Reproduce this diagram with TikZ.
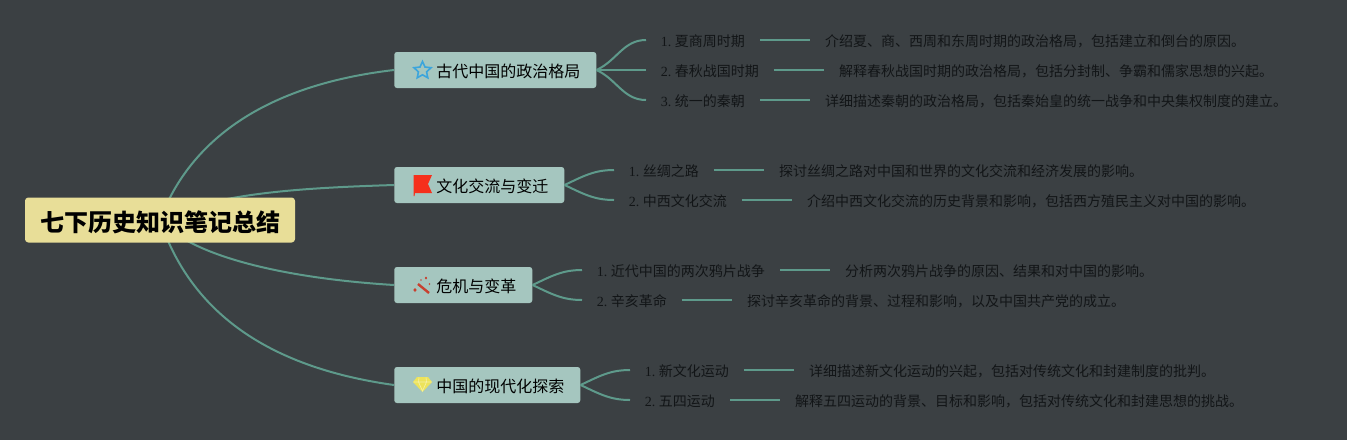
\documentclass[tikz,border=0pt]{standalone}
\usepackage{fontspec}
\setmainfont{Liberation Serif}
\newfontfamily\cjk{Noto Sans CJK SC}
\usepackage{tikz}
\usetikzlibrary{positioning, shapes.geometric, backgrounds}
\definecolor{bgcol}{HTML}{3B4043}
\definecolor{linecol}{HTML}{5E9A8B}
\definecolor{rootcol}{HTML}{E8DE98}
\definecolor{topiccol}{HTML}{A5C6BF}
\definecolor{inkcol}{HTML}{121517}
\definecolor{starcol}{HTML}{3CA5DC}
\definecolor{flagcol}{HTML}{F5301C}
\definecolor{wandcol}{HTML}{C8402F}
\definecolor{gemcol}{HTML}{EDE35A}
\frenchspacing
\tikzset{
  root/.style={fill=rootcol, rounded corners=2.5pt, inner sep=0pt, minimum width=202.5pt, minimum height=33.75pt, text height=18pt, text depth=1.3pt, text=black, font=\cjk\bfseries\fontsize{18}{20}\selectfont},
  topic/.style={fill=topiccol, rounded corners=2pt, anchor=west, inner xsep=12pt, inner ysep=0pt, minimum height=27pt, text height=12pt, text depth=1.4pt, text=black, font=\cjk\fontsize{12}{14}\selectfont},
  leaf/.style={anchor=west, inner xsep=11pt, inner ysep=0pt, text height=11pt, text depth=1.5pt, text=inkcol, font=\fontsize{10.5}{12}\selectfont},
  info/.style={inner xsep=11.25pt, inner ysep=0pt, text height=11pt, text depth=1.5pt, text=inkcol, font=\cjk\fontsize{10.5}{12}\selectfont},
  link/.style={draw=linecol, line width=1.5pt}}
\newcommand{\iconskip}{\hspace*{19.5pt}}

\begin{document}
\begin{tikzpicture}[x=0.75pt, y=-0.75pt, node distance=37.5pt]
  \node (root) [root] at (160,220) {\hspace*{1.5pt}七下历史知识笔记总结};

  \node (t1) [topic] at (394,70) {\iconskip 古代中国的政治格局};
  \node (t2) [topic] at (394,185) {\iconskip 文化交流与变迁};
  \node (t3) [topic] at (394,285) {\iconskip 危机与变革};
  \node (t4) [topic] at (394,385) {\iconskip 中国的现代化探索};

  \node (a1) [leaf] at (646,40) {1. {\cjk 夏商周时期}};
  \node (a2) [leaf] at (646,70) {2. {\cjk 春秋战国时期}};
  \node (a3) [leaf] at (646,100) {3. {\cjk 统一的秦朝}};
  \node (b1) [leaf] at (614,170) {1. {\cjk 丝绸之路}};
  \node (b2) [leaf] at (614,200) {2. {\cjk 中西文化交流}};
  \node (c1) [leaf] at (582,270) {1. {\cjk 近代中国的两次鸦片战争}};
  \node (c2) [leaf] at (582,300) {2. {\cjk 辛亥革命}};
  \node (e1) [leaf] at (630,370) {1. {\cjk 新文化运动}};
  \node (e2) [leaf] at (630,400) {2. {\cjk 五四运动}};

  \node (a1i) [info, right=of a1] {介绍夏、商、西周和东周时期的政治格局，包括建立和倒台的原因。};
  \node (a2i) [info, right=of a2] {解释春秋战国时期的政治格局，包括分封制、争霸和儒家思想的兴起。};
  \node (a3i) [info, right=of a3] {详细描述秦朝的政治格局，包括秦始皇的统一战争和中央集权制度的建立。};
  \node (b1i) [info, right=of b1] {探讨丝绸之路对中国和世界的文化交流和经济发展的影响。};
  \node (b2i) [info, right=of b2] {介绍中西文化交流的历史背景和影响，包括西方殖民主义对中国的影响。};
  \node (c1i) [info, right=of c1] {分析两次鸦片战争的原因、结果和对中国的影响。};
  \node (c2i) [info, right=of c2] {探讨辛亥革命的背景、过程和影响，以及中国共产党的成立。};
  \node (e1i) [info, right=of e1] {详细描述新文化运动的兴起，包括对传统文化和封建制度的批判。};
  \node (e2i) [info, right=of e2] {解释五四运动的背景、目标和影响，包括对传统文化和封建思想的挑战。};

  % curves run under the root box
  \begin{scope}[on background layer]
    \fill [bgcol] (0,0) rectangle (1347,440);
    \draw [link] (root.center) .. controls (190,140) and (265,85) .. (t1.west);
    \draw [link] (root.center) .. controls (215,193) and (300,188) .. (t2.west);
    \draw [link] (root.center) .. controls (190,255) and (280,278) .. (t3.west);
    \draw [link] (root.center) .. controls (190,310) and (265,367) .. (t4.west);
  \end{scope}

  \draw [link] (t1.east) to [out=25, in=180] (a1.west);
  \draw [link] (t1.east) -- (a2.west);
  \draw [link] (t1.east) to [out=-25, in=180] (a3.west);
  \draw [link] (t2.east) to [out=25, in=180] (b1.west);
  \draw [link] (t2.east) to [out=-25, in=180] (b2.west);
  \draw [link] (t3.east) to [out=25, in=180] (c1.west);
  \draw [link] (t3.east) to [out=-25, in=180] (c2.west);
  \draw [link] (t4.east) to [out=25, in=180] (e1.west);
  \draw [link] (t4.east) to [out=-25, in=180] (e2.west);

  \draw [link] (a1) -- (a1i);
  \draw [link] (a2) -- (a2i);
  \draw [link] (a3) -- (a3i);
  \draw [link] (b1) -- (b1i);
  \draw [link] (b2) -- (b2i);
  \draw [link] (c1) -- (c1i);
  \draw [link] (c2) -- (c2i);
  \draw [link] (e1) -- (e1i);
  \draw [link] (e2) -- (e2i);

  % icons
  \node (star) [star, star points=5, star point ratio=2.1, draw=starcol, line width=1.2pt, inner sep=0pt, minimum size=13.5pt] at (422.5,70.5) {};
  \fill [flagcol] (413.5,175) -- (432,175) -- (428,184) -- (432,193) -- (415,193) -- (414.5,196) -- (413.5,196) -- cycle;
  \draw [wandcol, line width=1.8pt] (418,284) -- (429,293);
  \fill [wandcol] (426,276.5) -- (427.2,278) -- (426,279.5) -- (424.8,278) -- cycle
    (415,288) -- (416.7,290) -- (415,292) -- (413.3,290) -- cycle
    (429.5,283) -- (430.3,284) -- (429.5,285) -- (428.7,284) -- cycle
    (421,279) -- (421.7,280) -- (421,281) -- (420.3,280) -- cycle;
  \fill [gemcol] (417,377) -- (428,377) -- (432,382) -- (422.5,392) -- (413,382) -- cycle;
  \draw [gemcol!55!white, line width=0.5pt] (413.5,382) -- (431.5,382) (418.5,382) -- (422.5,391) -- (426.5,382) (419,377.5) -- (418.5,382) (426,377.5) -- (426.5,382);
\end{tikzpicture}
\end{document}
